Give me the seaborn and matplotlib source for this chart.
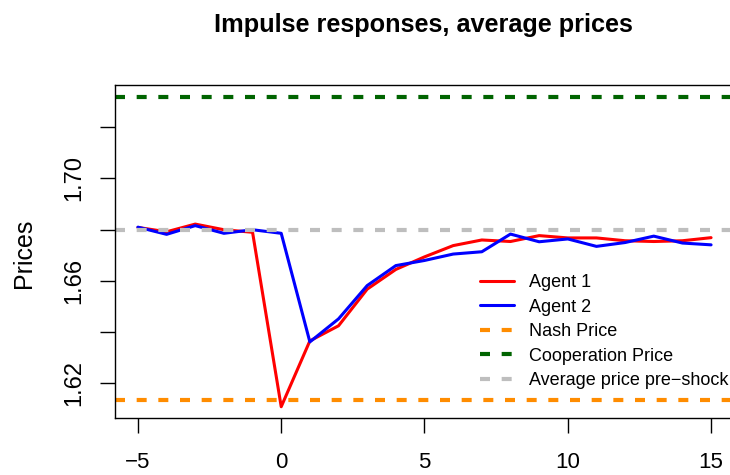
import numpy as np
import pandas as pd
import matplotlib
matplotlib.use("Agg")
import matplotlib.pyplot as plt
from matplotlib.lines import Line2D
import seaborn as sns

periods = list(range(-5, 16))
agent1 = [1.6809, 1.6792, 1.6822, 1.6800, 1.6790, 1.6109, 1.6366, 1.6425, 1.6568, 1.6645,
          1.6694, 1.6738, 1.6760, 1.6754, 1.6777, 1.6768, 1.6768, 1.6757, 1.6754, 1.6757, 1.6769]
agent2 = [1.6810, 1.6782, 1.6816, 1.6786, 1.6800, 1.6786, 1.6362, 1.6452, 1.6582, 1.6660,
          1.6680, 1.6705, 1.6714, 1.6783, 1.6753, 1.6764, 1.6735, 1.6750, 1.6775, 1.6748, 1.6741]
nash_price = 1.6134
coop_price = 1.7317
pre_shock = 1.6800

sns.set_style("white")
plt.rcParams["font.family"] = ["Liberation Sans", "DejaVu Sans"]
plt.rcParams["axes.unicode_minus"] = True
plt.rcParams["text.color"] = "black"
plt.rcParams["xtick.color"] = "black"
plt.rcParams["ytick.color"] = "black"
plt.rcParams["xtick.labelcolor"] = "black"
plt.rcParams["ytick.labelcolor"] = "black"

df = pd.DataFrame({"period": periods, "Agent 1": agent1, "Agent 2": agent2})
long = df.melt(id_vars="period", var_name="agent", value_name="price")

fig = plt.figure(figsize=(7.3, 4.75), dpi=100)
ax = fig.add_axes([115/730, 57/475, 619/730, 333/475])

sns.lineplot(data=long, x="period", y="price", hue="agent",
             palette={"Agent 1": "#ff0000", "Agent 2": "#0000ff"},
             linewidth=2.2, ax=ax, legend=False)

# reference lines
dash = (2.4, 2.8)
ax.axhline(coop_price, color="#006400", lw=3, dashes=dash)
ax.axhline(nash_price, color="#ff8c00", lw=3, dashes=dash)
ax.axhline(pre_shock, color="#bebebe", lw=3, dashes=dash)

ax.set_xlim(-5.8, 15.8)
ax.set_ylim(1.6065, 1.7365)
ax.set_xticks([-5, 0, 5, 10, 15])
ax.set_xticklabels(["\u22125", "0", "5", "10", "15"], fontsize=16)
yt = [1.62, 1.64, 1.66, 1.68, 1.70, 1.72]
ax.set_yticks(yt)
ax.set_yticklabels(["1.62", "", "1.66", "", "1.70", ""], rotation=90, va="center", fontsize=17)
ax.tick_params(axis="both", direction="out", length=10.5, width=1, color="black",
               labelcolor="black", left=True, bottom=True)
ax.tick_params(axis="x", pad=14)
ax.tick_params(axis="y", pad=11)
for s in ax.spines.values():
    s.set_color("black")
    s.set_linewidth(1)
ax.set_xlabel("")
ax.set_ylabel("")

fig.text(24/730, 1 - 253/475, "Prices", rotation=90, ha="center", va="center",
         fontsize=18, color="black")
fig.text(423/730, 1 - 32/475, "Impulse responses, average prices", ha="center", va="baseline",
         fontsize=18.2, fontweight="bold", color="black")

handles = [
    Line2D([], [], color="#ff0000", lw=2.2),
    Line2D([], [], color="#0000ff", lw=2.2),
    Line2D([], [], color="#ff8c00", lw=3, dashes=dash),
    Line2D([], [], color="#006400", lw=3, dashes=dash),
    Line2D([], [], color="#bebebe", lw=3, dashes=dash),
]
labels = ["Agent 1", "Agent 2", "Nash Price", "Cooperation Price", "Average price pre\u2212shock"]
leg = ax.legend(handles, labels, loc="upper left", bbox_to_anchor=(480/730, 1 - 274/475),
                bbox_transform=fig.transFigure, frameon=False, fontsize=13,
                handlelength=1.9, handletextpad=0.8, labelspacing=0.42, borderpad=0,
                borderaxespad=0)
for t in leg.get_texts():
    t.set_color("black")

fig.savefig("out.png", dpi=100)
